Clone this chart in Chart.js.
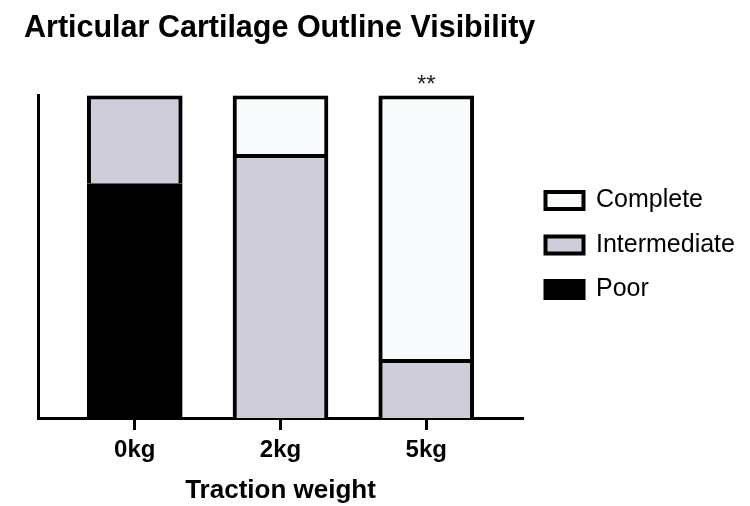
<!DOCTYPE html>
<html>
<head>
<meta charset="utf-8">
<script src="https://cdn.jsdelivr.net/npm/chart.js@4"></script>
<style>
  body { margin: 0; background: #fff; }
  #wrap { width: 750px; height: 506px; }
</style>
</head>
<body>
<div id="wrap"><canvas id="chart"></canvas></div>
<script>
let weights = ["0kg", "2kg", "5kg"];
// percent of cases per traction weight
let poor = [72.7, null, null];
let intermediate = [27.3, 81.8, 18.2];
let complete = [null, 18.2, 81.8];
let markText = ["", "", "**"];

function pts(arr) {
  return arr.map(function (v, i) {
    return { x: i, y: v };
  });
}

// legend width is fixed and stars are drawn above the bars
const starsPlugin = {
  id: "stars",
  beforeLayout(chart) {
    let lg = chart.legend;
    if (lg && !lg._fixedWidth) {
      let fit = lg.fit.bind(lg);
      lg.fit = function () {
        fit();
        lg.width = 227;
      };
      lg._fixedWidth = true;
    }
  },
  afterLayout(chart) {
    //nudge legend to where the original has it
    chart.legend.top -= 10;
    chart.legend.bottom -= 10;
    chart.legend.left += 3;
    chart.legend.right += 3;
  },
  afterDatasetsDraw(chart) {
    let ctx = chart.ctx;
    let x = chart.scales.x;
    let y = chart.scales.y;
    ctx.save();
    ctx.fillStyle = "#222";
    ctx.font = "24px 'Liberation Sans'";
    ctx.textAlign = "center";
    ctx.textBaseline = "alphabetic";
    markText.forEach(function (t, i) {
      if (t) ctx.fillText(t, x.getPixelForValue(i), y.getPixelForValue(100) - 4);
    });
    ctx.restore();
  },
};

const data = {
  datasets: [
    {
      label: "Poor",
      data: pts(poor),
      backgroundColor: "#000000",
      borderColor: "#000000",
      borderWidth: 4,
    },
    {
      label: "Intermediate",
      data: pts(intermediate),
      backgroundColor: "#cfcdd9",
      borderColor: "#000000",
      borderWidth: 4,
    },
    {
      label: "Complete",
      data: pts(complete),
      backgroundColor: "#f7fbfb",
      borderColor: "#000000",
      borderWidth: 4,
    },
  ],
};

const config = {
  type: "bar",
  data: data,
  plugins: [starsPlugin],
  options: {
    responsive: true,
    maintainAspectRatio: false,
    animation: false,
    barThickness: 95,
    layout: { padding: { left: 24, right: 0, top: 0, bottom: -4 } },
    plugins: {
      title: {
        display: true,
        text: "Articular Cartilage Outline Visibility",
        align: "start",
        color: "#000",
        font: { family: "Liberation Sans", size: 30.5, weight: "bold" },
        padding: { top: 10, bottom: 49 },
      },
      legend: {
        position: "right",
        reverse: true,
        labels: {
          boxWidth: 38,
          boxHeight: 17,
          color: "#000",
          padding: 19.5,
          font: { family: "Liberation Sans", size: 25 },
        },
      },
      tooltip: { enabled: false },
    },
    scales: {
      x: {
        type: "linear",
        stacked: true,
        offset: false,
        min: -0.664,
        max: 2.664,
        afterBuildTicks: function (axis) {
          axis.ticks = weights.map(function (w, i) {
            return { value: i };
          });
        },
        ticks: {
          callback: function (v) {
            return weights[v];
          },
          color: "#000",
          padding: 6,
          maxRotation: 0,
          font: { family: "Liberation Sans", size: 24, weight: "bold" },
        },
        grid: {
          offset: false,
          drawOnChartArea: false,
          tickLength: 12,
          tickWidth: 3,
          tickColor: "#000",
        },
        border: { color: "#000", width: 3 },
        title: {
          display: true,
          text: "Traction weight",
          color: "#000",
          font: { family: "Liberation Sans", size: 26, weight: "bold" },
          padding: { top: 4 },
        },
      },
      y: {
        stacked: true,
        min: 0,
        max: 100,
        afterFit: function (axis) {
          axis.width = 14;
        },
        ticks: { display: false },
        grid: { display: false },
        border: { color: "#000", width: 3 },
      },
    },
  },
};

const myChart = new Chart(document.getElementById("chart"), config);
</script>
</body>
</html>
